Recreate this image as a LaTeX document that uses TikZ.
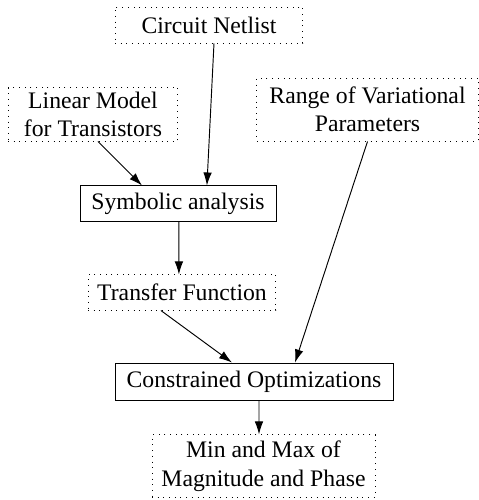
\documentclass[tikz,border=0pt]{standalone}
\usepackage{fontspec}
\setmainfont{Liberation Serif}
\usetikzlibrary{arrows.meta}
\tikzset{
  box/.style={draw, align=center, inner sep=1pt, font=\normalsize},
  dotbox/.style={box, dotted},
  flow/.style={-{Latex[length=5.5pt,width=3.6pt]}, line width=0.4pt}
}
\begin{document}
\begin{tikzpicture}[x=0.422pt, y=-0.422pt]
      \useasboundingbox (0,0) rectangle (479,500);
      % inputs
      \node[dotbox, minimum width=79.3pt, minimum height=15.2pt] (net) at (209,25) {Circuit Netlist};
      \node[dotbox, minimum width=71.7pt, minimum height=22.4pt] (lin) at (93,114.5) {Linear Model\\for Transistors};
      \node[dotbox, minimum width=93.3pt, minimum height=26.6pt] (rng) at (367.5,109.5) {Range of Variational\\Parameters};
      % processing
      \node[box, minimum width=82.7pt, minimum height=14.8pt] (sym) at (178,203.5) {Symbolic analysis};
      \node[dotbox, minimum width=79.3pt, minimum height=14.8pt] (tf) at (182,292.5) {Transfer Function};
      \node[box, minimum width=117.3pt, minimum height=15.6pt] (con) at (254,381.5) {Constrained Optimizations};
      \node[dotbox, minimum width=94.1pt, minimum height=26.2pt] (mm) at (263.5,466) {Min and Max of\\Magnitude and Phase};
      % arrows
      \draw[flow] ([xshift=2.1pt]net.south) -- ([xshift=12.2pt]sym.north);
      \draw[flow] ([xshift=2.1pt]lin.south) -- ([xshift=-15.2pt]sym.north);
      \draw[flow] ([xshift=0.4pt]sym.south) -- ([xshift=-1.3pt]tf.north);
      \draw[flow] ([xshift=-8.9pt]tf.south) -- ([xshift=-9.3pt]con.north);
      \draw[flow] (rng.south) -- ([xshift=17.3pt]con.north);
      \draw[flow] ([xshift=2.1pt]con.south) -- ([xshift=-1.9pt]mm.north);
\end{tikzpicture}
\end{document}
